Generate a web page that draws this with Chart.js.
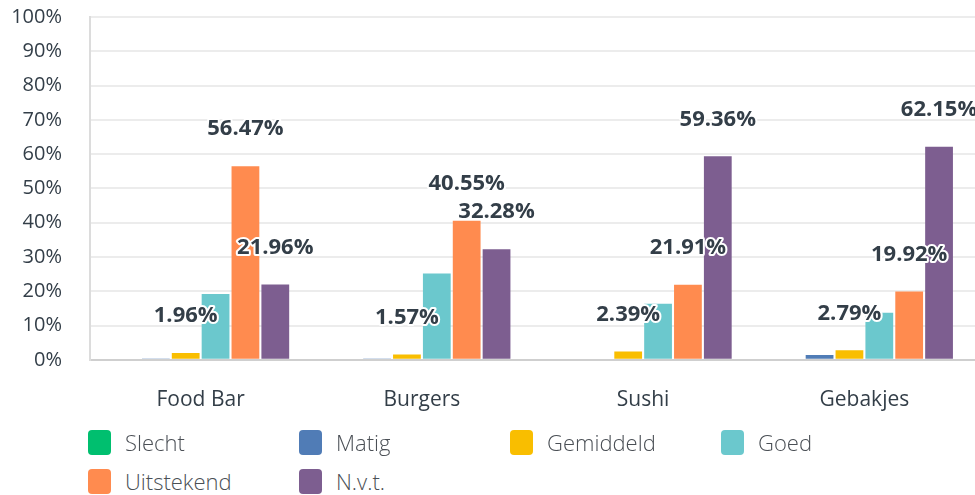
<!DOCTYPE html>
<html>
<head>
<meta charset="utf-8">
<script src="https://cdn.jsdelivr.net/npm/chart.js@4.4.1/dist/chart.umd.min.js"></script>
<style>
  body { margin: 0; background: #fff; overflow: hidden; }
  #wrap { position: relative; width: 975px; height: 495px; overflow: hidden; }
  #chart { position: absolute; left: 0; top: -23px; }
  #legend { position: absolute; left: 88px; top: 427px; width: 887px; }
  .item { position: absolute; display: flex; align-items: center;
          font-family: "Open Sans", sans-serif; font-weight: 300; font-size: 22px; color: #4a4f55; }
  .box { width: 23px; height: 25px; border-radius: 4px; margin-right: 14px; }
</style>
</head>
<body>
<div id="wrap">
  <canvas id="chart" width="975" height="464"></canvas>
  <div id="legend"></div>
</div>
<script>
// categories and series
const categories = ["Food Bar", "Burgers", "Sushi", "Gebakjes"];
const seriesNames = ["Slecht", "Matig", "Gemiddeld", "Goed", "Uitstekend", "N.v.t."];
const seriesColors = ["#00bf6f", "#507cb6", "#f9be00", "#6bc8cd", "#ff8b4f", "#7d5e90"];

const slecht = [0, 0, 0, 0];
const matig = [0.39, 0.4, 0, 1.39];
const gemiddeld = [1.96, 1.57, 2.39, 2.79];
const goed = [19.22, 25.2, 16.34, 13.75];
const uitstekend = [56.47, 40.55, 21.91, 19.92];
const nvt = [21.96, 32.28, 59.36, 62.15];

const seriesValues = [slecht, matig, gemiddeld, goed, uitstekend, nvt];
// only these series carry a value label in the original
const labeledSeries = [2, 4, 5];

const yTicks = [0, 10, 20, 30, 40, 50, 60, 70, 80, 90, 100];

// value labels above bars, white outline
const valueLabels = {
    id: "valueLabels",
    afterDatasetsDraw(chart) {
        const ctx = chart.ctx;
        ctx.save();
        ctx.font = "bold 22px 'Open Sans', sans-serif";
        ctx.textAlign = "center";
        ctx.textBaseline = "middle";
        ctx.lineJoin = "round";
        labeledSeries.forEach(i => {
            chart.getDatasetMeta(i).data.forEach((bar, j) => {
                const txt = seriesValues[i][j].toFixed(2) + "%";
                const y = bar.y - 37;
                ctx.lineWidth = 4;
                ctx.strokeStyle = "#fff";
                ctx.strokeText(txt, bar.x, y);
                ctx.fillStyle = "#333e48";
                ctx.fillText(txt, bar.x, y);
            });
        });
        ctx.restore();
    }
};

const chart = new Chart(document.getElementById("chart"), {
    type: "bar",
    data: {
        labels: categories,
        datasets: seriesNames.map((name, i) => ({
            label: name,
            data: seriesValues[i],
            backgroundColor: seriesColors[i],
            borderWidth: 0,
            barPercentage: 0.93,
            categoryPercentage: 0.81
        }))
    },
    options: {
        responsive: false,
        animation: false,
        layout: { padding: { top: -4, right: 0, left: 0, bottom: 0 } },
        plugins: {
            legend: { display: false },
            tooltip: { enabled: false }
        },
        scales: {
            x: {
                grid: { display: false, drawTicks: false },
                border: { color: "#cfcfcf", width: 2 },
                ticks: { padding: 28, color: "#333e48", font: { family: "Open Sans", size: 21 } }
            },
            y: {
                min: 0,
                max: 100,
                afterFit(scale) { scale.width = 90; },
                afterBuildTicks(scale) { scale.ticks = yTicks.map(v => ({ value: v })); },
                grid: { color: "#ececec", lineWidth: 2, drawTicks: false },
                border: { color: "#dcdcdc", width: 2 },
                ticks: {
                    padding: 28,
                    color: "#333e48",
                    font: { family: "Open Sans", size: 20 },
                    callback: v => v + "%"
                }
            }
        }
    },
    plugins: [valueLabels]
});

// html legend, fixed columns
const legendEl = document.getElementById("legend");
seriesNames.forEach((name, i) => {
    const item = document.createElement("div");
    item.className = "item";
    item.style.left = (i % 4) * 211 + "px";
    item.style.top = Math.floor(i / 4) * 39 + "px";
    item.innerHTML = `<span class="box" style="background:${seriesColors[i]}"></span>${name}`;
    legendEl.appendChild(item);
});
</script>
</body>
</html>
